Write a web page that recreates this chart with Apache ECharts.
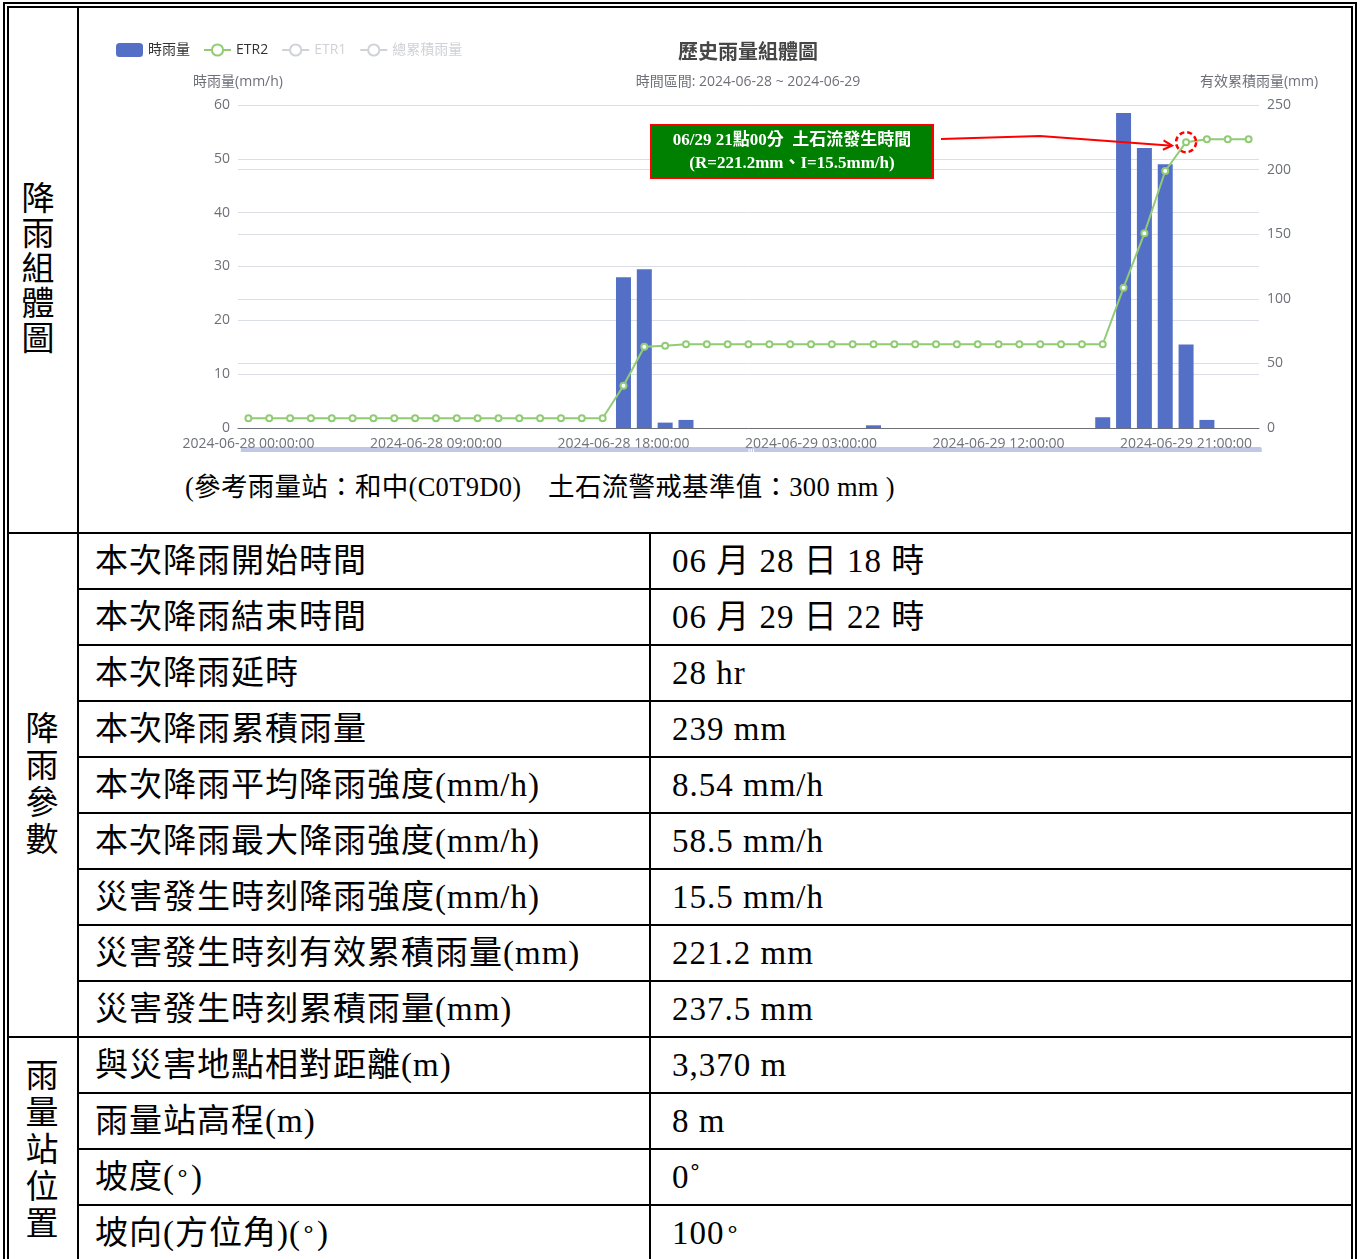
<!DOCTYPE html>
<html><head><meta charset="utf-8">
<script src="https://cdn.jsdelivr.net/npm/echarts@6/dist/echarts.min.js"></script>
<style>
html,body{margin:0;padding:0;background:#fff;overflow:hidden;width:1362px;height:1259px;}
.line{position:absolute;background:#000;}
.txt{position:absolute;font-family:"Liberation Serif","Noto Sans CJK TC",serif;font-size:33px;letter-spacing:1px;color:#000;white-space:nowrap;line-height:54px;height:54px;}
.vlabel{position:absolute;font-family:"Liberation Serif","Noto Sans CJK TC",serif;font-size:33px;text-align:center;color:#000;}
.ring{font-size:24px;vertical-align:0.3em;line-height:0;}
#caption{position:absolute;left:185px;top:469px;font-family:"Liberation Serif","Noto Sans CJK TC",serif;font-size:26.5px;letter-spacing:0.3px;line-height:36px;color:#000;white-space:nowrap;}
</style></head><body>
<div id="frame" style="position:absolute;left:3px;top:2px;width:1354px;height:1290px;box-sizing:border-box;border:6px double #000;"></div>
<div id="chart" style="position:absolute;left:80px;top:10px;width:1270px;height:442px;"></div>
<div id="caption">(參考雨量站：和中(C0T9D0)　土石流警戒基準值：300 mm )</div>
<div id="table"></div>
<script>
// ---------- chart data ----------
const categories = [
 '2024-06-28 00:00:00','2024-06-28 01:00:00','2024-06-28 02:00:00','2024-06-28 03:00:00','2024-06-28 04:00:00','2024-06-28 05:00:00',
 '2024-06-28 06:00:00','2024-06-28 07:00:00','2024-06-28 08:00:00','2024-06-28 09:00:00','2024-06-28 10:00:00','2024-06-28 11:00:00',
 '2024-06-28 12:00:00','2024-06-28 13:00:00','2024-06-28 14:00:00','2024-06-28 15:00:00','2024-06-28 16:00:00','2024-06-28 17:00:00',
 '2024-06-28 18:00:00','2024-06-28 19:00:00','2024-06-28 20:00:00','2024-06-28 21:00:00','2024-06-28 22:00:00','2024-06-28 23:00:00',
 '2024-06-29 00:00:00','2024-06-29 01:00:00','2024-06-29 02:00:00','2024-06-29 03:00:00','2024-06-29 04:00:00','2024-06-29 05:00:00',
 '2024-06-29 06:00:00','2024-06-29 07:00:00','2024-06-29 08:00:00','2024-06-29 09:00:00','2024-06-29 10:00:00','2024-06-29 11:00:00',
 '2024-06-29 12:00:00','2024-06-29 13:00:00','2024-06-29 14:00:00','2024-06-29 15:00:00','2024-06-29 16:00:00','2024-06-29 17:00:00',
 '2024-06-29 18:00:00','2024-06-29 19:00:00','2024-06-29 20:00:00','2024-06-29 21:00:00','2024-06-29 22:00:00','2024-06-29 23:00:00',
 '2024-06-30 00:00:00'
];
const hourlyRain = [
 0,0,0,0,0,0, 0,0,0,0,0,0, 0,0,0,0,0,0,
 28,29.5,1,1.5,0,0,
 0,0,0,0,0,0, 0.5,0,0,0,0,0, 0,0,0,0,0,2,
 58.5,52,49,15.5,1.5,0,
 0
];
const etr2 = [
 7.5,7.5,7.5,7.5,7.5,7.5, 7.5,7.5,7.5,7.5,7.5,7.5, 7.5,7.5,7.5,7.5,7.5,7.5,
 32.7,62.9,63.7,64.8,64.8,64.8,
 64.8,64.8,64.8,64.8,64.8,64.8, 64.8,64.8,64.8,64.8,64.8,64.8, 64.8,64.8,64.8,64.8,64.8,64.8,
 108.6,150.7,198.9,221.2,223.5,223.5,
 223.5
];
const etr1 = [];
const totalRain = [];
const eventIndex = 45;
const leftTicks = {min:0, max:60, interval:10};
const rightTicks = {min:0, max:250, interval:50};

// ---------- table data ----------
const paramLabels = ['本次降雨開始時間','本次降雨結束時間','本次降雨延時','本次降雨累積雨量','本次降雨平均降雨強度(mm/h)','本次降雨最大降雨強度(mm/h)','災害發生時刻降雨強度(mm/h)','災害發生時刻有效累積雨量(mm)','災害發生時刻累積雨量(mm)'];
const paramValues = ['06 月 28 日 18 時','06 月 29 日 22 時','28 hr','239 mm','8.54 mm/h','58.5 mm/h','15.5 mm/h','221.2 mm','237.5 mm'];
const stationLabels = ['與災害地點相對距離(m)','雨量站高程(m)','坡度(<span class="ring">∘</span>)','坡向(方位角)(<span class="ring">∘</span>)'];
const stationValues = ['3,370 m','8 m','0˚','100<span class="ring">∘</span>'];

// ---------- build table ----------
(function(){
  const t = document.getElementById('table');
  function add(html){ t.insertAdjacentHTML('beforeend', html); }
  add('<div class="line" style="left:77px;top:8px;width:2px;height:1260px"></div>');
  add('<div class="line" style="left:8px;top:532px;width:1344px;height:2px"></div>');
  add('<div class="line" style="left:649px;top:532px;width:2px;height:740px"></div>');
  const labels = paramLabels.concat(stationLabels);
  const values = paramValues.concat(stationValues);
  for (let k = 0; k < labels.length; k++) {
    const top = 534 + 56 * k;
    add('<div class="txt" style="left:95px;top:' + top + 'px">' + labels[k] + '</div>');
    add('<div class="txt" style="left:672px;top:' + top + 'px">' + values[k] + '</div>');
    if (k < labels.length - 1) {
      const ly = top + 54;
      const full = (k === paramLabels.length - 1);
      add('<div class="line" style="left:' + (full ? 8 : 77) + 'px;top:' + ly + 'px;width:' + (full ? 1344 : 1275) + 'px;height:2px"></div>');
    }
  }
  add('<div class="vlabel" style="left:9px;top:182px;width:58px;line-height:35px">降<br>雨<br>組<br>體<br>圖</div>');
  add('<div class="vlabel" style="left:9px;top:711px;width:66px;line-height:37px">降<br>雨<br>參<br>數</div>');
  add('<div class="vlabel" style="left:9px;top:1058px;width:66px;line-height:37px">雨<br>量<br>站<br>位<br>置</div>');
})();

// ---------- chart ----------
const chart = echarts.init(document.getElementById('chart'));
const axisLabelColor = '#6E7079';
const option = {
  animation: false,
  textStyle: {fontFamily: "'Open Sans','Noto Sans CJK TC',sans-serif"},
  title: {
    text: '歷史雨量組體圖',
    subtext: '時間區間: 2024-06-28 ~ 2024-06-29',
    left: 663, top: 26, textAlign: 'center', itemGap: 14,
    textStyle: {fontSize: 20, fontWeight: 'bold', color: '#464646', fontFamily: "'Noto Sans CJK TC',sans-serif"},
    subtextStyle: {fontSize: 14, color: axisLabelColor}
  },
  legend: {
    left: 31, top: 28, itemWidth: 27, itemHeight: 14, itemGap: 13,
    textStyle: {fontSize: 14, color: '#333'},
    data: ['時雨量', 'ETR2', 'ETR1', '總累積雨量'],
    selected: {'ETR1': false, '總累積雨量': false}
  },
  grid: {left: 158, right: 91, top: 95, bottom: 24},
  xAxis: {
    type: 'category', data: categories,
    axisLabel: {interval: 8, fontSize: 14, color: axisLabelColor, margin: 9},
    axisTick: {interval: 8},
    axisLine: {lineStyle: {color: axisLabelColor}}
  },
  yAxis: [
    {type: 'value', name: '時雨量(mm/h)', min: leftTicks.min, max: leftTicks.max, interval: leftTicks.interval,
     nameGap: 16, nameTextStyle: {fontSize: 14, color: axisLabelColor},
     axisLabel: {fontSize: 14, color: axisLabelColor}},
    {type: 'value', name: '有效累積雨量(mm)', min: rightTicks.min, max: rightTicks.max, interval: rightTicks.interval,
     nameGap: 16, nameTextStyle: {fontSize: 14, color: axisLabelColor},
     axisLabel: {fontSize: 14, color: axisLabelColor}}
  ],
  dataZoom: [{type: 'slider', xAxisIndex: 0, start: 0, end: 100, left: 158, right: 91, top: 437, height: 30,
    showDetail: false, showDataShadow: false}],
  series: [
    {name: '時雨量', type: 'bar', data: hourlyRain, barWidth: 15, itemStyle: {color: '#5470c6'}},
    {name: 'ETR2', type: 'line', yAxisIndex: 1, data: etr2, symbol: 'emptyCircle', symbolSize: 6,
     itemStyle: {color: '#91cc75'}, lineStyle: {width: 2, color: '#91cc75'},
     markPoint: {
       symbol: 'circle', symbolSize: 20, label: {show: false}, silent: true,
       itemStyle: {color: 'rgba(0,0,0,0)', borderColor: '#ff0000', borderWidth: 2.5, borderType: [5, 3]},
       data: [{coord: [categories[eventIndex], etr2[eventIndex]]}]
     }},
    {name: 'ETR1', type: 'line', yAxisIndex: 1, data: etr1, symbol: 'emptyCircle', itemStyle: {color: '#fac858'}},
    {name: '總累積雨量', type: 'line', yAxisIndex: 1, data: totalRain, symbol: 'emptyCircle', itemStyle: {color: '#ee6666'}}
  ]
};
chart.setOption(option);

// annotation box + arrow pointing at the event point
const p = chart.convertToPixel({seriesIndex: 1}, [eventIndex, etr2[eventIndex]]);
const tip = [p[0] - 14, p[1] + 3.5];
const bend = [960, 126];
const start = [861, 129];
const dx = tip[0] - bend[0], dy = tip[1] - bend[1];
const len = Math.sqrt(dx * dx + dy * dy);
const ux = dx / len, uy = dy / len;
const ang = 28 * Math.PI / 180, al = 10;
function arm(s) {
  const c = Math.cos(s * ang), sn = Math.sin(s * ang);
  const rx = ux * c - uy * sn, ry = ux * sn + uy * c;
  return [tip[0] - al * rx, tip[1] - al * ry];
}
const boxFont = '"Liberation Serif","Noto Sans CJK TC",serif';
chart.setOption({
  graphic: [
    {type: 'rect', z: 100, shape: {x: 571, y: 115, width: 282, height: 53},
     style: {fill: '#008000', stroke: '#ff0000', lineWidth: 2}},
    {type: 'text', z: 101, style: {text: '06/29 21點00分  土石流發生時間', x: 712, y: 131, align: 'center', verticalAlign: 'middle',
     fill: '#ffffff', fontSize: 17, fontWeight: 'bold', fontFamily: boxFont}},
    {type: 'text', z: 101, style: {text: '(R=221.2mm、I=15.5mm/h)', x: 712, y: 154, align: 'center', verticalAlign: 'middle',
     fill: '#ffffff', fontSize: 17, fontWeight: 'bold', fontFamily: boxFont}},
    {type: 'polyline', z: 100, shape: {points: [start, bend, tip]}, style: {stroke: '#ff0000', lineWidth: 2, fill: null}},
    {type: 'polyline', z: 100, shape: {points: [arm(1), tip, arm(-1)]}, style: {stroke: '#ff0000', lineWidth: 2, fill: null}}
  ]
});
</script>
</body></html>
